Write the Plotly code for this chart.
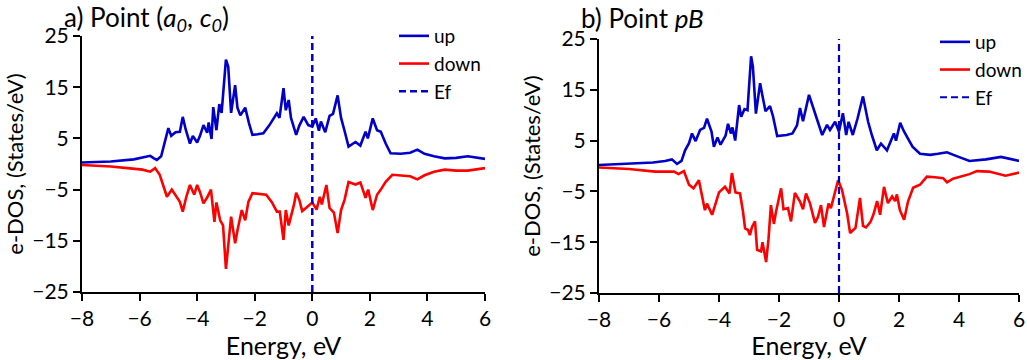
import plotly.graph_objects as go

# ---------------- data ----------------
x_ticks = [-8, -6, -4, -2, 0, 2, 4, 6]
y_ticks = [-25, -15, -5, 5, 15, 25]

# Panel a) Point (a0, c0)
energy_a_up = [-8.0, -7.0, -6.2, -5.9, -5.63, -5.5, -5.4, -5.25, -5.1, -5.0, -4.9, -4.75, -4.6, -4.5, -4.4,
               -4.25, -4.15, -4.0, -3.9, -3.78, -3.65, -3.6, -3.5, -3.44, -3.33, -3.23, -3.15, -3.0, -2.92,
               -2.82, -2.68, -2.6, -2.5, -2.33, -2.2, -2.08, -1.9, -1.7, -1.5, -1.35, -1.23, -1.14, -1.0,
               -0.92, -0.82, -0.74, -0.65, -0.56, -0.45, -0.3, -0.14, 0.0, 0.12, 0.23, 0.3, 0.45, 0.6, 0.72,
               0.88, 1.0, 1.12, 1.26, 1.5, 1.67, 1.85, 1.93, 2.1, 2.25, 2.38, 2.55, 2.72, 3.07, 3.4, 3.65,
               3.9, 4.23, 4.6, 5.0, 5.4, 6.0]
dos_a_up = [0.3, 0.5, 0.9, 1.2, 1.6, 1.1, 0.8, 1.5, 4.5, 7.0, 5.5, 6.2, 6.3, 9.2, 6.8,
            4.0, 5.5, 4.2, 5.5, 7.6, 6.1, 8.1, 4.9, 11.1, 6.6, 11.7, 10.0, 20.4, 19.0,
            10.0, 15.4, 11.0, 9.5, 11.0, 8.0, 5.7, 5.8, 6.0, 7.5, 9.0, 9.9, 9.0, 14.8,
            10.5, 12.5, 9.0, 7.5, 5.7, 7.5, 9.2, 7.6, 7.3, 8.9, 6.5, 8.3, 6.2, 9.4, 9.8,
            13.4, 9.0, 6.5, 3.4, 4.3, 3.6, 6.3, 5.0, 8.9, 6.6, 6.3, 4.0, 2.1, 2.0, 2.2, 2.8,
            2.0, 1.5, 1.1, 1.2, 1.5, 1.0]

energy_a_down = [-8.0, -7.0, -6.33, -5.9, -5.63, -5.46, -5.3, -5.05, -4.88, -4.6, -4.5, -4.38, -4.25, -4.1,
                 -4.0, -3.9, -3.78, -3.65, -3.52, -3.4, -3.33, -3.2, -3.1, -3.0, -2.82, -2.68, -2.6, -2.45,
                 -2.33, -2.22, -2.08, -1.8, -1.6, -1.4, -1.23, -1.13, -1.0, -0.92, -0.82, -0.63, -0.56,
                 -0.45, -0.35, -0.2, 0.0, 0.15, 0.26, 0.33, 0.49, 0.6, 0.75, 0.88, 1.0, 1.12, 1.26, 1.5,
                 1.67, 1.85, 1.94, 2.1, 2.25, 2.38, 2.55, 2.78, 3.1, 3.4, 3.65, 3.9, 4.23, 4.6, 5.0, 5.4, 6.0]
dos_a_down = [-0.2, -0.5, -0.85, -1.1, -1.5, -0.8, -2.1, -6.4, -5.0, -7.4, -9.3, -6.5, -4.1, -6.0,
              -4.1, -5.5, -7.7, -6.5, -5.0, -11.3, -7.5, -11.0, -12.0, -20.5, -10.3, -15.5, -13.0, -9.0,
              -11.0, -7.4, -5.7, -5.8, -6.0, -7.5, -9.3, -9.3, -14.8, -9.0, -12.0, -7.8, -5.6,
              -7.0, -9.2, -8.5, -7.5, -8.9, -6.4, -7.9, -4.1, -8.6, -9.5, -13.5, -9.0, -7.0, -3.5, -4.0,
              -3.6, -6.6, -5.0, -9.0, -6.0, -5.0, -3.5, -2.1, -2.2, -2.4, -3.0, -2.2, -1.5, -1.1, -1.3, -1.3, -0.8]

# Panel b) Point pB
energy_b_up = [-8.0, -7.0, -6.2, -5.8, -5.57, -5.4, -5.25, -5.13, -5.0, -4.9, -4.78, -4.63, -4.5, -4.4, -4.25,
               -4.17, -4.05, -3.95, -3.78, -3.7, -3.6, -3.55, -3.46, -3.33, -3.26, -3.15, -3.05, -2.93, -2.87,
               -2.77, -2.63, -2.55, -2.45, -2.3, -2.2, -2.06, -1.75, -1.55, -1.4, -1.3, -1.2, -1.0, -0.88,
               -0.75, -0.56, -0.4, -0.3, -0.13, 0.0, 0.13, 0.24, 0.32, 0.46, 0.62, 0.8, 0.97, 1.1, 1.26,
               1.4, 1.6, 1.83, 1.9, 2.04, 2.15, 2.3, 2.45, 2.7, 3.04, 3.3, 3.6, 3.9, 4.35, 4.9, 5.4, 6.0]
dos_b_up = [0.2, 0.4, 0.7, 1.0, 1.3, 0.4, 1.0, 3.1, 4.5, 6.4, 4.9, 7.1, 7.5, 9.3, 6.8,
            3.8, 5.6, 4.2, 6.0, 8.3, 6.4, 7.6, 5.0, 12.0, 9.7, 11.2, 11.0, 21.6, 19.5,
            10.3, 16.3, 13.8, 10.8, 11.8, 9.8, 5.9, 6.1, 6.4, 8.0, 11.4, 8.8, 14.0, 11.6,
            9.5, 6.1, 8.1, 7.1, 8.7, 6.8, 10.4, 6.1, 8.7, 6.1, 9.4, 13.7, 8.7, 6.0, 3.1,
            4.4, 3.1, 6.4, 5.0, 8.5, 7.0, 5.4, 3.8, 2.4, 2.2, 2.4, 2.7, 2.0, 1.0, 1.3, 1.8, 1.0]

energy_b_down = [-8.0, -7.0, -6.13, -5.5, -5.35, -5.17, -5.0, -4.85, -4.67, -4.47, -4.4, -4.23, -4.0, -3.8,
                 -3.65, -3.57, -3.45, -3.3, -3.2, -3.13, -3.03, -2.97, -2.9, -2.8, -2.73, -2.6, -2.55, -2.43,
                 -2.35, -2.27, -2.17, -2.1, -1.93, -1.85, -1.7, -1.6, -1.47, -1.3, -1.2, -1.1, -0.97, -0.8,
                 -0.7, -0.6, -0.5, -0.35, -0.27, -0.13, -0.03, 0.1, 0.27, 0.37, 0.55, 0.7, 0.8, 0.9, 1.05,
                 1.15, 1.27, 1.37, 1.5, 1.63, 1.77, 1.87, 1.93, 2.03, 2.17, 2.3, 2.47, 2.7, 2.93, 3.2, 3.47,
                 3.6, 3.8, 4.35, 4.6, 5.0, 5.55, 6.0]
dos_b_down = [-0.3, -0.6, -1.1, -1.1, -1.6, -1.0, -3.7, -4.4, -2.8, -8.7, -7.4, -9.6, -5.2, -4.1,
              -5.4, -1.4, -5.2, -5.4, -9.0, -12.3, -12.6, -13.6, -12.0, -10.9, -16.5, -16.8, -15.0, -18.9,
              -14.4, -7.7, -11.4, -9.0, -4.4, -8.5, -8.3, -10.9, -5.3, -7.0, -8.5, -5.4, -7.3, -11.2,
              -10.0, -7.7, -12.0, -7.4, -8.3, -5.0, -2.8, -4.7, -9.3, -13.2, -12.2, -6.3, -11.8, -12.1, -11.0,
              -9.5, -6.9, -9.6, -4.1, -7.3, -6.0, -6.9, -5.6, -8.7, -10.6, -7.0, -4.3, -3.7, -2.1, -2.2, -2.4,
              -3.2, -2.5, -1.6, -1.0, -1.1, -1.9, -1.3]

fermi_x = [0, 0]
fermi_y = [-25, 25]

series_names = ["up", "down", "Ef"]
panel_titles = ["a) Point (<i>a<sub>0</sub></i>, <i>c<sub>0</sub></i>)", "b) Point <i>pB</i>"]

# ---------------- styling ----------------
BLUE = "#0000C8"
RED = "#FF0000"
FONT = "Lato"
W, H = 1027, 360

fig = go.Figure()

panels = [
    (energy_a_up, dos_a_up, energy_a_down, dos_a_down, "x", "y", "legend", 2.5),
    (energy_b_up, dos_b_up, energy_b_down, dos_b_down, "x2", "y2", "legend2", 2.2),
]
for eu, du, ed, dd, xa, ya, lg, efw in panels:
    fig.add_trace(go.Scatter(x=eu, y=du, mode="lines", name=series_names[0],
                             line=dict(color=BLUE, width=2.6), xaxis=xa, yaxis=ya, legend=lg))
    fig.add_trace(go.Scatter(x=ed, y=dd, mode="lines", name=series_names[1],
                             line=dict(color=RED, width=2.6), xaxis=xa, yaxis=ya, legend=lg))
    fig.add_trace(go.Scatter(x=fermi_x, y=fermi_y, mode="lines", name=series_names[2],
                             line=dict(color=BLUE, width=efw, dash="7px,4px"), xaxis=xa, yaxis=ya, legend=lg))

ax_common = dict(
    showgrid=False, zeroline=False, showline=True, linecolor="black", linewidth=2,
    ticks="outside", ticklen=7, tickwidth=2, tickcolor="black", automargin=False,
    tickfont=dict(family=FONT, size=21, color="black"),
)
xcommon = dict(ax_common, range=[-8, 6], tickvals=x_ticks,
               title=dict(text="Energy, eV", font=dict(family=FONT, size=25, color="black"), standoff=0))
ycommon = dict(ax_common, range=[-25, 25], tickvals=y_ticks,
               title=dict(text="e-DOS, (States/eV)", font=dict(family=FONT, size=22, color="black"), standoff=3))

legend_font = dict(family=FONT, size=19, color="black")

fig.update_layout(
    width=W, height=H,
    margin=dict(l=0, r=0, t=0, b=0, autoexpand=False),
    paper_bgcolor="white", plot_bgcolor="white",
    xaxis=dict(xcommon, domain=[82 / W, 485 / W], anchor="y"),
    yaxis=dict(ycommon, domain=[1 - 292 / H, 1 - 36 / H], anchor="x"),
    xaxis2=dict(xcommon, domain=[599 / W, 1019 / W], anchor="y2"),
    yaxis2=dict(ycommon, domain=[1 - 293 / H, 1 - 39 / H], anchor="x2"),
    legend=dict(x=394 / W, y=1 - 17 / H, xanchor="left", yanchor="top",
                font=legend_font, bgcolor="rgba(0,0,0,0)", tracegroupgap=0, itemwidth=30),
    legend2=dict(x=935 / W, y=1 - 23 / H, xanchor="left", yanchor="top",
                 font=legend_font, bgcolor="rgba(0,0,0,0)", tracegroupgap=0, itemwidth=30),
    annotations=[
        dict(text=panel_titles[0], x=62 / W, y=1 - 18 / H, xref="paper", yref="paper",
             xanchor="left", yanchor="middle", showarrow=False,
             font=dict(family=FONT, size=26, color="black")),
        dict(text=panel_titles[1], x=579 / W, y=1 - 18 / H, xref="paper", yref="paper",
             xanchor="left", yanchor="middle", showarrow=False,
             font=dict(family=FONT, size=26, color="black")),
    ],
    showlegend=True,
)

fig.write_html("out.html")
